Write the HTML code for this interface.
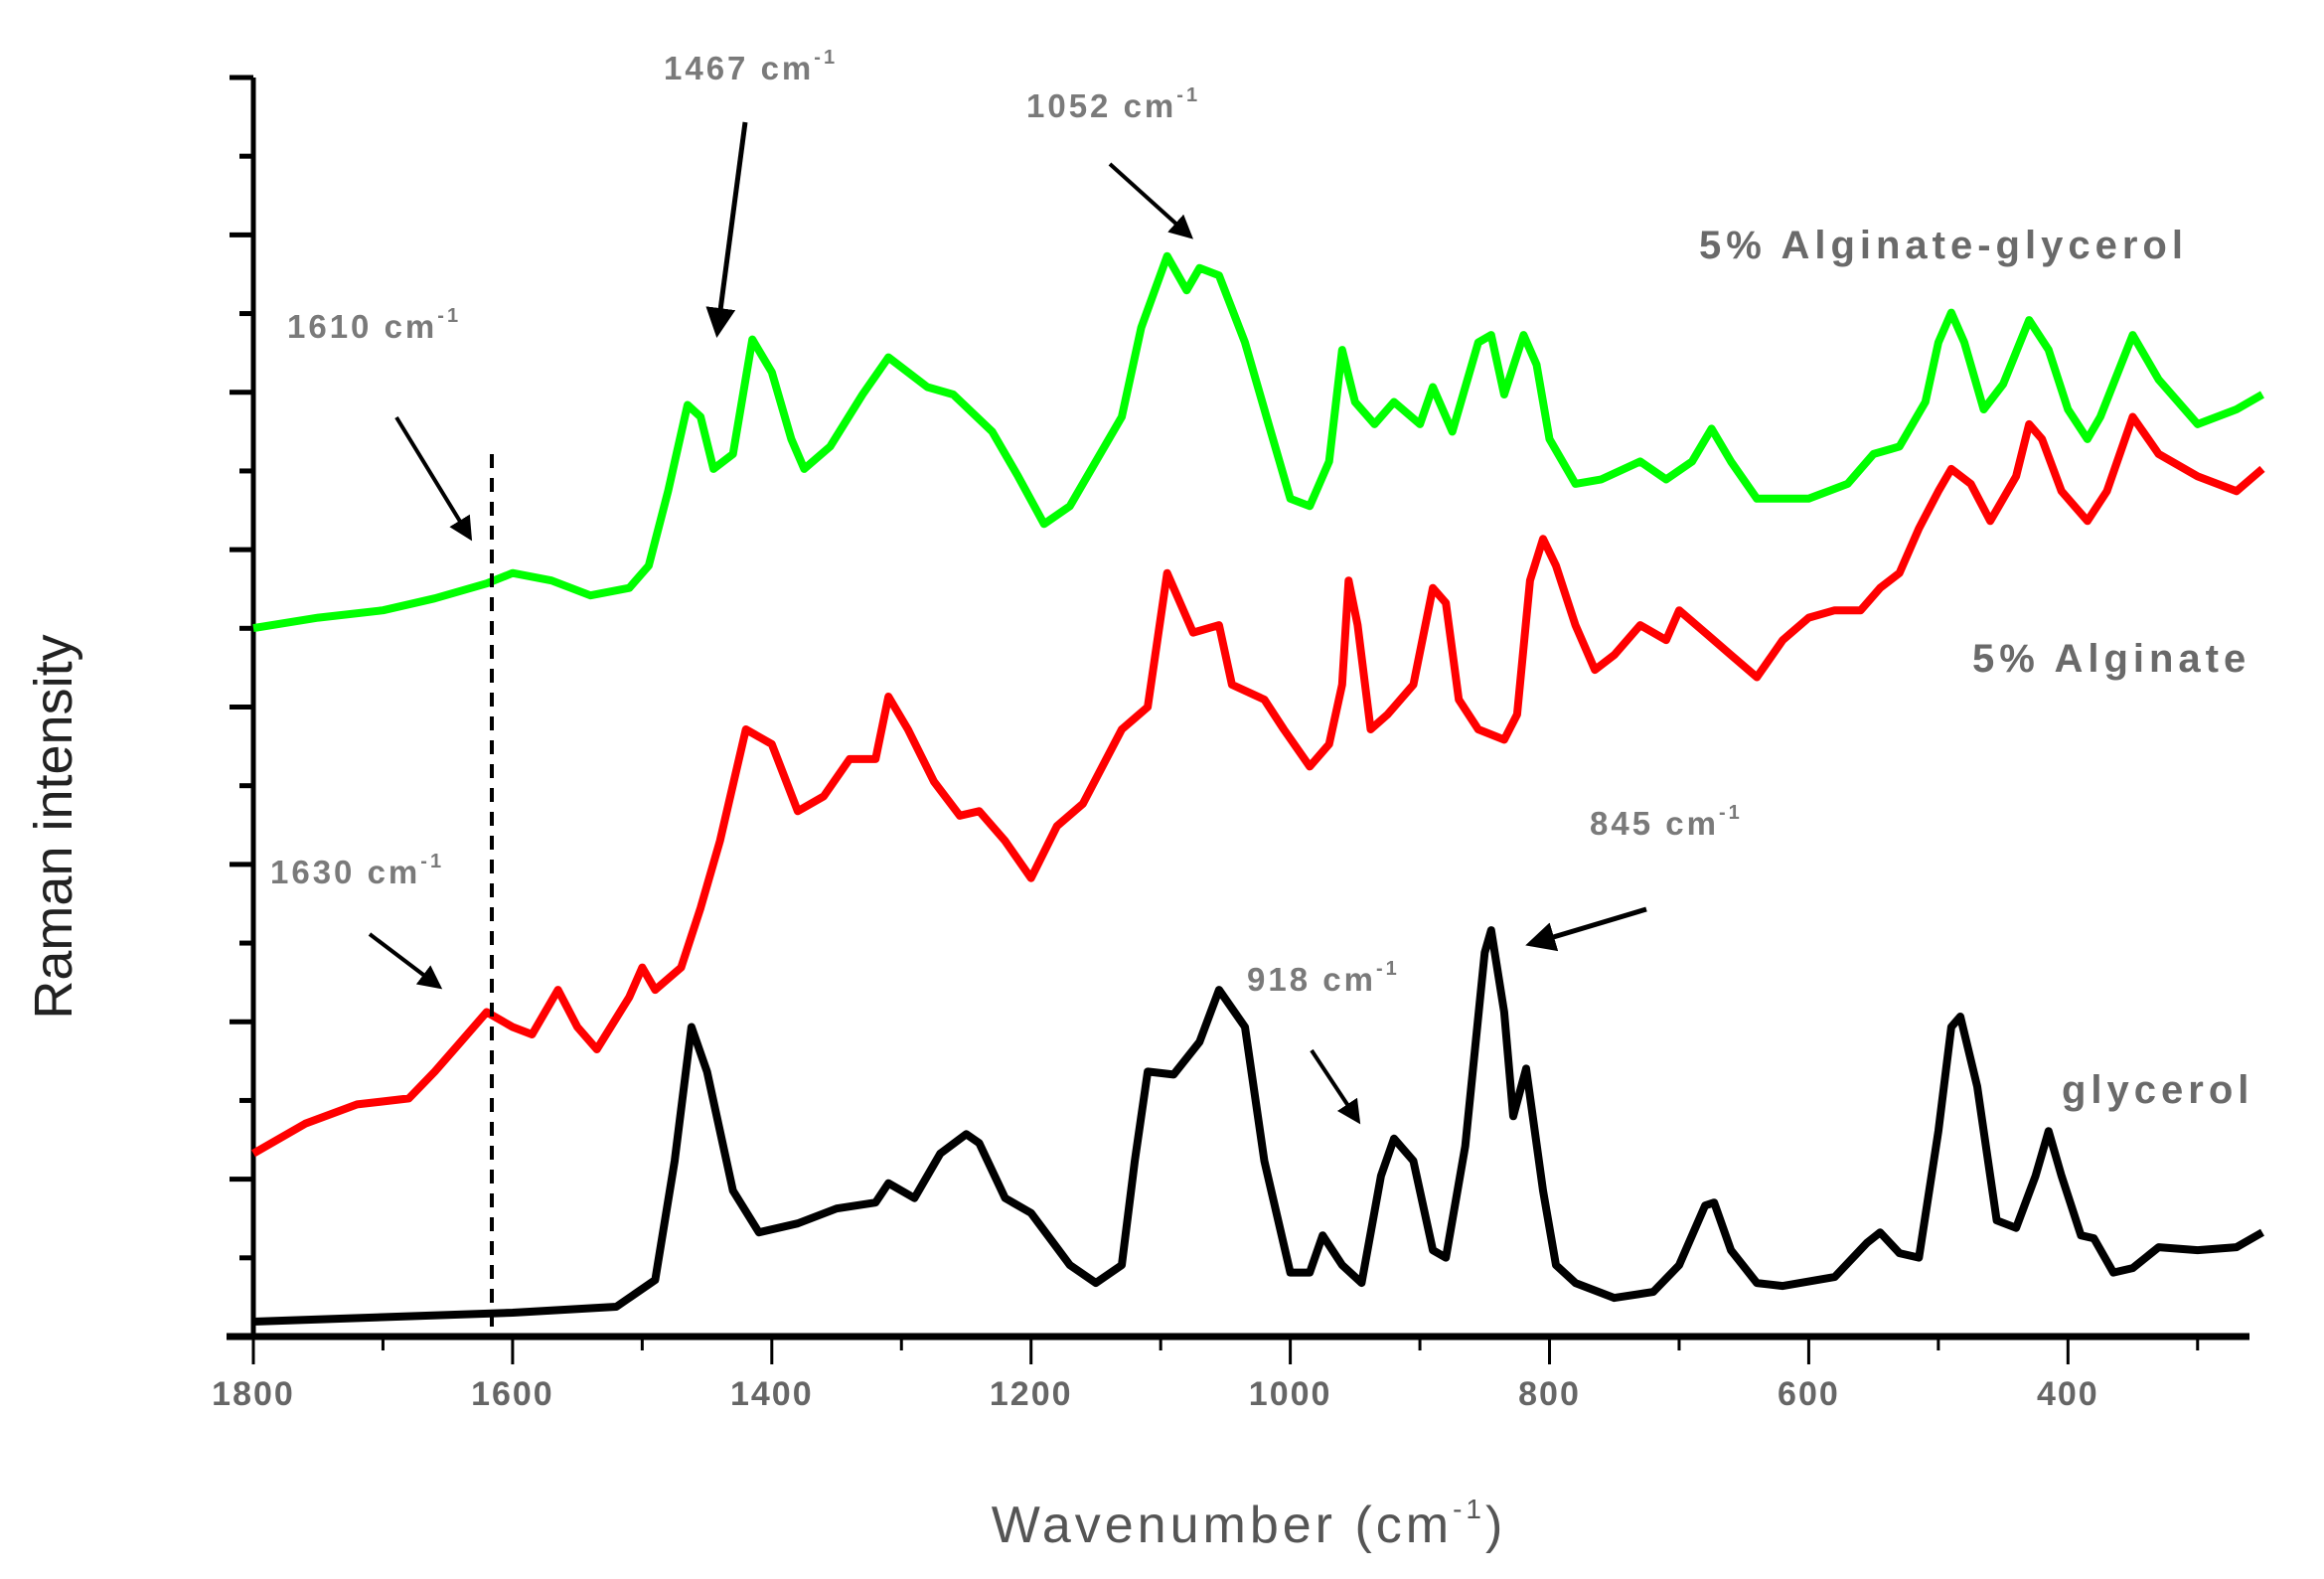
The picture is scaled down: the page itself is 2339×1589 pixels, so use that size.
<!DOCTYPE html>
<html><head><meta charset="utf-8"><style>
html,body{margin:0;padding:0;background:#fff;}
svg{display:block;font-family:"Liberation Sans",sans-serif;}
</style></head><body>
<svg id="chart" width="2339" height="1589" viewBox="0 0 2339 1589" xmlns="http://www.w3.org/2000/svg">
<defs><marker id="ah" markerWidth="6" markerHeight="6" refX="5" refY="3" orient="auto" markerUnits="strokeWidth"><path d="M0,0 L6,3 L0,6 z" fill="#000"/></marker></defs>
<g id="axes"></g>
<g id="series"></g>
<g id="annot">
<line x1="495" y1="457" x2="495" y2="1342" stroke="#000" stroke-width="4" stroke-dasharray="14,10"/>
<line x1="750" y1="123" x2="722" y2="335" stroke="#000" stroke-width="5" marker-end="url(#ah)"/>
<line x1="1117" y1="165" x2="1198" y2="238" stroke="#000" stroke-width="4" marker-end="url(#ah)"/>
<line x1="399" y1="420" x2="473" y2="541" stroke="#000" stroke-width="4" marker-end="url(#ah)"/>
<line x1="372" y1="940" x2="442" y2="993" stroke="#000" stroke-width="4" marker-end="url(#ah)"/>
<line x1="1657" y1="915" x2="1540" y2="950" stroke="#000" stroke-width="5" marker-end="url(#ah)"/>
<line x1="1320" y1="1057" x2="1367" y2="1128" stroke="#000" stroke-width="4" marker-end="url(#ah)"/>
<g fill="#7a7a7a" font-size="33" font-weight="bold" letter-spacing="3">
<text x="668" y="80">1467 cm<tspan font-size="20" dy="-16">-1</tspan></text>
<text x="1033" y="118">1052 cm<tspan font-size="20" dy="-16">-1</tspan></text>
<text x="289" y="340">1610 cm<tspan font-size="20" dy="-16">-1</tspan></text>
<text x="1600" y="840">845 cm<tspan font-size="20" dy="-16">-1</tspan></text>
<text x="272" y="889">1630 cm<tspan font-size="20" dy="-16">-1</tspan></text>
<text x="1255" y="997">918 cm<tspan font-size="20" dy="-16">-1</tspan></text>
</g>
<g fill="#6a6a6a" font-size="40" font-weight="bold" letter-spacing="5">
<text x="1710" y="260">5% Alginate-glycerol</text>
<text x="1985" y="676">5% Alginate</text>
<text x="2075" y="1110">glycerol</text>
</g>
<text transform="translate(72,832) rotate(-90)" text-anchor="middle" font-size="54" fill="#222">Raman intensity</text>
<text x="1257" y="1552" text-anchor="middle" font-size="52" fill="#555" letter-spacing="4">Wavenumber (cm<tspan font-size="28" dy="-24">-1</tspan><tspan dy="24">)</tspan></text>
</g>
</svg>
<script>
const xTicks = [1800,1600,1400,1200,1000,800,600,400];
const glyW = [1800,1600,1520,1490,1475,1462,1450,1430,1410,1380,1350,1320,1310,1290,1270,1250,1240,1220,1200,1170,1150,1130,1120,1110,1090,1070,1055,1035,1020,1000,985,975,960,945,930,920,905,890,880,865,850,845,835,828,818,805,795,780,750,720,700,680,673,660,640,620,580,555,545,530,515,500,490,483,470,455,440,425,415,405,390,380,365,350,330,300,270,250];
const glyV = [10,16,20,38,118,208,178,98,70,76,86,90,103,93,123,136,130,93,83,48,36,48,118,178,176,198,233,208,118,43,43,68,48,36,108,133,118,58,53,128,258,273,218,148,180,98,48,36,26,30,48,88,90,58,36,34,40,63,70,56,53,138,208,215,168,78,73,108,138,108,68,66,43,46,60,58,60,70];
const algW = [1800,1760,1720,1680,1660,1640,1620,1600,1585,1565,1550,1535,1510,1500,1490,1470,1455,1440,1420,1400,1380,1360,1340,1320,1310,1295,1275,1255,1240,1220,1200,1180,1160,1130,1110,1095,1075,1055,1045,1020,1005,985,970,960,955,948,938,925,905,890,880,870,855,835,825,815,805,795,780,765,750,730,710,700,680,660,640,620,600,580,560,545,530,515,500,490,475,460,440,430,420,405,385,370,350,330,300,270,250];
const algV = [123,143,156,160,178,198,218,208,203,233,208,193,228,248,233,248,288,333,408,398,353,363,388,388,430,408,373,350,353,333,308,343,358,408,423,513,473,478,438,428,408,383,398,438,508,478,408,418,438,503,493,428,408,401,418,508,536,518,478,448,458,478,468,488,473,458,443,468,483,488,488,503,513,543,568,583,573,548,578,613,603,568,548,568,618,593,578,568,583];
const aggW = [1800,1750,1700,1660,1620,1600,1570,1540,1510,1495,1480,1465,1455,1445,1430,1415,1400,1385,1375,1355,1330,1310,1280,1260,1230,1210,1190,1170,1150,1130,1115,1095,1080,1070,1055,1035,1015,1000,985,970,960,950,935,920,900,890,875,855,845,835,820,810,800,780,760,730,710,690,675,660,640,600,570,550,530,510,500,490,480,465,450,430,415,400,385,375,350,330,300,270,250];
const aggV = [476,483,488,496,506,513,508,498,503,518,568,626,618,583,593,670,648,603,583,598,633,658,638,633,608,578,546,558,588,618,678,726,703,718,713,668,608,563,558,588,663,628,613,628,613,638,608,668,673,633,673,653,603,573,576,588,576,588,610,588,563,563,573,593,598,628,668,688,668,623,640,683,663,623,603,618,673,643,613,623,633];
const yMax = 846;
const X0=255, X1=2277, W0=1800, W1=250, Y0=1345, Y1=78;
function xs(w){return X0+(W0-w)/(W0-W1)*(X1-X0);}
function ysc(v){return Y0-(v/yMax)*(Y0-Y1);}
const NS="http://www.w3.org/2000/svg";
const axes=document.getElementById('axes');
function mk(tag,attrs,parent){const e=document.createElementNS(NS,tag);for(const k in attrs)e.setAttribute(k,attrs[k]);parent.appendChild(e);return e;}
let l=mk('line',{x1:X0,y1:Y1,x2:X0,y2:Y0+2,stroke:'#000','stroke-width':5},axes);


l=mk('line',{x1:228,y1:Y0,x2:2264,y2:Y0,stroke:'#000','stroke-width':7},axes);


for(let i=0;i<=16;i++){
  const y=Y0-i*(Y0-Y1)/16;
  const t=mk('line',{x1:X0-(i%2===0?24:14),y1:y,x2:X0,y2:y,stroke:'#000','stroke-width':5},axes);
  
  
}
for(let w=1800;w>=300;w-=100){
  const x=xs(w);const major=w%200===0;
  const t=mk('line',{x1:x,y1:Y0,x2:x,y2:Y0+(major?28:14),stroke:'#000','stroke-width':3},axes);
  
  
}
xTicks.forEach(w=>{
  const t=mk('text',{x:xs(w),y:1414,'text-anchor':'middle','font-size':34,'font-weight':'bold',fill:'#666','letter-spacing':2},axes);
  t.textContent=w;
  
  
});
const ser=document.getElementById('series');
function drawSeries(W,V,color,name){
  const d=W.map((w,i)=>(i?'L':'M')+xs(w).toFixed(1)+','+ysc(V[i]).toFixed(1)).join(' ');
  const p=mk('path',{d:d,fill:'none',stroke:color,'stroke-width':8,'stroke-linejoin':'round'},ser);
  
  
}
drawSeries(glyW,glyV,'#000','series-glycerol');
drawSeries(algW,algV,'#ff0000','series-alginate');
drawSeries(aggW,aggV,'#00ff00','series-alginate-glycerol');
</script>
</body></html>
